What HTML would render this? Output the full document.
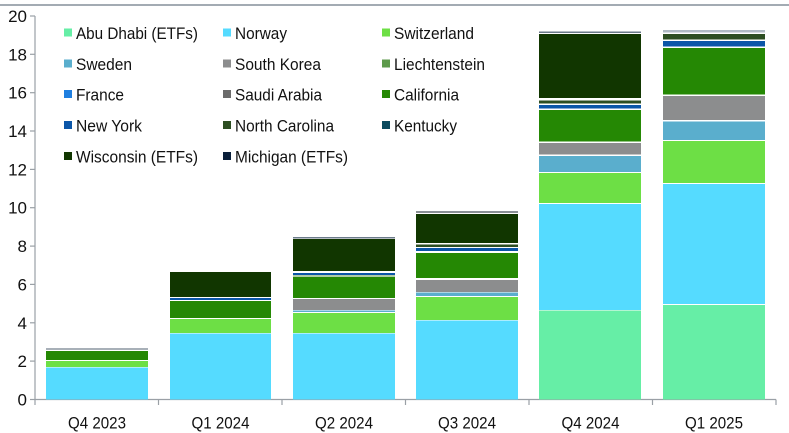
<!DOCTYPE html>
<html><head><meta charset="utf-8"><style>
html,body{margin:0;padding:0;background:#fff;}
svg{display:block;font-family:"Liberation Sans",sans-serif;}
</style></head><body>
<svg width="789" height="433" viewBox="0 0 789 433" xmlns="http://www.w3.org/2000/svg">
<rect x="0" y="4" width="789" height="2" fill="#a3abb3"/>
<g stroke="#9aa0a6" stroke-width="1.2" fill="none">
<line x1="35" y1="16" x2="35" y2="400"/>
<line x1="35" y1="399.5" x2="776" y2="399.5"/>
<line x1="30" y1="16" x2="35" y2="16"/><line x1="30" y1="54.3" x2="35" y2="54.3"/><line x1="30" y1="92.7" x2="35" y2="92.7"/><line x1="30" y1="131" x2="35" y2="131"/><line x1="30" y1="169.4" x2="35" y2="169.4"/><line x1="30" y1="207.7" x2="35" y2="207.7"/><line x1="30" y1="246.1" x2="35" y2="246.1"/><line x1="30" y1="284.4" x2="35" y2="284.4"/><line x1="30" y1="322.8" x2="35" y2="322.8"/><line x1="30" y1="361.1" x2="35" y2="361.1"/><line x1="30" y1="399.5" x2="35" y2="399.5"/>
<line x1="35" y1="399.5" x2="35" y2="405"/><line x1="158.5" y1="399.5" x2="158.5" y2="405"/><line x1="282" y1="399.5" x2="282" y2="405"/><line x1="405.5" y1="399.5" x2="405.5" y2="405"/><line x1="529" y1="399.5" x2="529" y2="405"/><line x1="652.5" y1="399.5" x2="652.5" y2="405"/><line x1="776" y1="399.5" x2="776" y2="405"/>
</g>
<g font-size="17" fill="#111" text-anchor="end">
<text x="27" y="22">20</text><text x="27" y="60.3">18</text><text x="27" y="98.7">16</text><text x="27" y="137">14</text><text x="27" y="175.4">12</text><text x="27" y="213.7">10</text><text x="27" y="252.1">8</text><text x="27" y="290.4">6</text><text x="27" y="328.8">4</text><text x="27" y="367.1">2</text><text x="27" y="405.5">0</text>
</g>
<g font-size="17" fill="#111">
<text x="68" y="428.5" textLength="58" lengthAdjust="spacingAndGlyphs">Q4 2023</text>
<text x="191.5" y="428.5" textLength="58" lengthAdjust="spacingAndGlyphs">Q1 2024</text>
<text x="315" y="428.5" textLength="58" lengthAdjust="spacingAndGlyphs">Q2 2024</text>
<text x="438" y="428.5" textLength="58" lengthAdjust="spacingAndGlyphs">Q3 2024</text>
<text x="561.5" y="428.5" textLength="58" lengthAdjust="spacingAndGlyphs">Q4 2024</text>
<text x="685" y="428.5" textLength="58" lengthAdjust="spacingAndGlyphs">Q1 2025</text>
</g>
<g>
<rect x="46" y="367.5" width="102" height="32" fill="#55dbff"/>
<rect x="46" y="361" width="102" height="6" fill="#6ddf45"/>
<rect x="46" y="351" width="102" height="9" fill="#258804"/>
<rect x="46" y="348" width="102" height="2" fill="#a8b0b8"/>
<rect x="170" y="333.5" width="101" height="66" fill="#55dbff"/>
<rect x="170" y="319" width="101" height="14" fill="#6ddf45"/>
<rect x="170" y="301" width="101" height="17" fill="#258804"/>
<rect x="170" y="298" width="101" height="2" fill="#0b56a8"/>
<rect x="170" y="272" width="101" height="25" fill="#113600"/>
<rect x="293" y="333.5" width="102" height="66" fill="#55dbff"/>
<rect x="293" y="313" width="102" height="20" fill="#6ddf45"/>
<rect x="293" y="310.5" width="102" height="1.5" fill="#5aaecd"/>
<rect x="293" y="299" width="102" height="11" fill="#8c8d8e"/>
<rect x="293" y="277" width="102" height="21" fill="#258804"/>
<rect x="293" y="275.5" width="102" height="1" fill="#5d9a4b"/>
<rect x="293" y="273" width="102" height="2" fill="#0b56a8"/>
<rect x="293" y="239" width="102" height="32" fill="#113600"/>
<rect x="293" y="237" width="102" height="1.5" fill="#6b7a8a"/>
<rect x="416" y="320.5" width="102" height="79" fill="#55dbff"/>
<rect x="416" y="297" width="102" height="23" fill="#6ddf45"/>
<rect x="416" y="292.5" width="102" height="3.5" fill="#5aaecd"/>
<rect x="416" y="280" width="102" height="12" fill="#8c8d8e"/>
<rect x="416" y="253" width="102" height="25" fill="#258804"/>
<rect x="416" y="248" width="102" height="3" fill="#0b56a8"/>
<rect x="416" y="244.5" width="102" height="2.5" fill="#2d4e22"/>
<rect x="416" y="214" width="102" height="29" fill="#113600"/>
<rect x="416" y="211" width="102" height="2" fill="#8a9096"/>
<rect x="539" y="310.5" width="102" height="89" fill="#66eea6"/>
<rect x="539" y="204" width="102" height="106" fill="#55dbff"/>
<rect x="539" y="173" width="102" height="30" fill="#6ddf45"/>
<rect x="539" y="156" width="102" height="16" fill="#5aaecd"/>
<rect x="539" y="143" width="102" height="11.5" fill="#8c8d8e"/>
<rect x="539" y="110" width="102" height="31.5" fill="#258804"/>
<rect x="539" y="105" width="102" height="3.5" fill="#0b56a8"/>
<rect x="539" y="100.5" width="102" height="3" fill="#2d4e22"/>
<rect x="539" y="34" width="102" height="64" fill="#113600"/>
<rect x="539" y="31.5" width="102" height="1.5" fill="#6b7a8a"/>
<rect x="663" y="305" width="102" height="94.5" fill="#66eea6"/>
<rect x="663" y="184" width="102" height="120" fill="#55dbff"/>
<rect x="663" y="141" width="102" height="42" fill="#6ddf45"/>
<rect x="663" y="121.5" width="102" height="18.5" fill="#5aaecd"/>
<rect x="663" y="96" width="102" height="24" fill="#8c8d8e"/>
<rect x="663" y="48" width="102" height="46.5" fill="#258804"/>
<rect x="663" y="41" width="102" height="5.5" fill="#0b56a8"/>
<rect x="663" y="34" width="102" height="5.5" fill="#2d4e22"/>
<rect x="663" y="30" width="102" height="2.5" fill="#b0bac4"/>
</g>
<g font-size="17" fill="#111">
<rect x="64" y="28.5" width="8" height="8" fill="#66eea6"/><text x="76" y="39" textLength="122" lengthAdjust="spacingAndGlyphs">Abu Dhabi (ETFs)</text>
<rect x="223" y="28.5" width="8" height="8" fill="#55dbff"/><text x="235" y="39" textLength="52" lengthAdjust="spacingAndGlyphs">Norway</text>
<rect x="382" y="28.5" width="8" height="8" fill="#6ddf45"/><text x="394" y="39" textLength="80" lengthAdjust="spacingAndGlyphs">Switzerland</text>
<rect x="64" y="59.5" width="8" height="8" fill="#5aaecd"/><text x="76" y="70" textLength="56" lengthAdjust="spacingAndGlyphs">Sweden</text>
<rect x="223" y="59.5" width="8" height="8" fill="#8c8d8e"/><text x="235" y="70" textLength="86" lengthAdjust="spacingAndGlyphs">South Korea</text>
<rect x="382" y="59.5" width="8" height="8" fill="#5d9a4b"/><text x="394" y="70" textLength="91" lengthAdjust="spacingAndGlyphs">Liechtenstein</text>
<rect x="64" y="90" width="8" height="8" fill="#1f7fe0"/><text x="76" y="100.5" textLength="48" lengthAdjust="spacingAndGlyphs">France</text>
<rect x="223" y="90" width="8" height="8" fill="#6b6b6b"/><text x="235" y="100.5" textLength="87" lengthAdjust="spacingAndGlyphs">Saudi Arabia</text>
<rect x="382" y="90" width="8" height="8" fill="#258804"/><text x="394" y="100.5" textLength="65" lengthAdjust="spacingAndGlyphs">California</text>
<rect x="64" y="121" width="8" height="8" fill="#0b56a8"/><text x="76" y="131.5" textLength="66" lengthAdjust="spacingAndGlyphs">New York</text>
<rect x="223" y="121" width="8" height="8" fill="#2d4e22"/><text x="235" y="131.5" textLength="99" lengthAdjust="spacingAndGlyphs">North Carolina</text>
<rect x="382" y="121" width="8" height="8" fill="#0b4a5e"/><text x="394" y="131.5" textLength="63" lengthAdjust="spacingAndGlyphs">Kentucky</text>
<rect x="64" y="152" width="8" height="8" fill="#113600"/><text x="76" y="162.5" textLength="122" lengthAdjust="spacingAndGlyphs">Wisconsin (ETFs)</text>
<rect x="223" y="152" width="8" height="8" fill="#0a1f3a"/><text x="235" y="162.5" textLength="113" lengthAdjust="spacingAndGlyphs">Michigan (ETFs)</text>
</g>
</svg>
</body></html>
